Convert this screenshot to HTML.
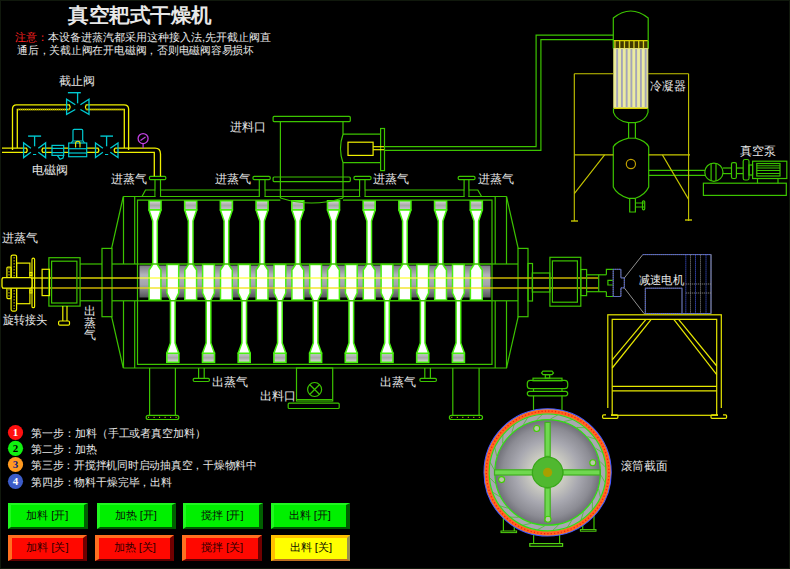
<!DOCTYPE html>
<html><head><meta charset="utf-8"><style>
html,body{margin:0;padding:0;background:#000;}
#root{position:relative;width:790px;height:569px;overflow:hidden;background:#000;font-family:"Liberation Sans",sans-serif;}
svg{position:absolute;left:0;top:0;}
svg text{font-family:"Liberation Sans",sans-serif;}
.bd{position:absolute;}
.btn{position:absolute;box-sizing:border-box;font-size:11.2px;line-height:1;display:flex;align-items:center;justify-content:center;color:#000;border-style:solid;}
.btn span{position:relative;top:-0.5px;white-space:pre;}
.btn.g{background:#00f000;border-width:2px 4px 2px 3px;border-color:#20f820 #006000 #005800 #20f820;color:#081008;}
.btn.r{background:#ff0800;border-width:3px 4px 2px 4.5px;border-color:#ff7020 #700000 #600000 #ff7020;color:#300000;}
.btn.y{background:#ffff00;border-width:3px 3.5px 2px 4px;border-color:#ffc000 #989050 #c07020 #ffc000;color:#101000;}
</style></head><body><div id="root">
<div class="bd" style="left:0;top:0;width:790px;height:1px;background:#10180c"></div>
<div class="bd" style="left:0;top:0;width:1px;height:569px;background:#10180c"></div>
<div class="bd" style="left:789px;top:0;width:1px;height:569px;background:#10180c"></div>
<div class="bd" style="left:0;top:568px;width:790px;height:1px;background:#10180c"></div>
<svg width="790" height="569" viewBox="0 0 790 569">
<defs>
<linearGradient id="gband" x1="0" y1="0" x2="0" y2="1">
 <stop offset="0" stop-color="#7c7c84"/><stop offset="0.3" stop-color="#b4b4bc"/>
 <stop offset="0.6" stop-color="#a4a4ac"/><stop offset="1" stop-color="#55555a"/></linearGradient>
<linearGradient id="gcap" x1="0" y1="0" x2="0" y2="1">
 <stop offset="0" stop-color="#d8d8d8"/><stop offset="0.5" stop-color="#a8a8a8"/><stop offset="1" stop-color="#c8c8d0"/></linearGradient>
<linearGradient id="gcapb" x1="0" y1="0" x2="0" y2="1">
 <stop offset="0" stop-color="#c8c8d0"/><stop offset="0.5" stop-color="#a8a8a8"/><stop offset="1" stop-color="#d8d8d8"/></linearGradient>
<linearGradient id="gtube" x1="0" y1="0" x2="1" y2="0" spreadMethod="repeat">
 <stop offset="0" stop-color="#d8d8c8"/><stop offset="0.5" stop-color="#9a9a9a"/><stop offset="1" stop-color="#d8d8c8"/></linearGradient>
<radialGradient id="gsec" cx="0.5" cy="0.5" r="0.5">
 <stop offset="0" stop-color="#e4e4dc"/><stop offset="0.35" stop-color="#c8c8c0"/><stop offset="0.6" stop-color="#a8a8b0"/><stop offset="0.85" stop-color="#8c8c94"/><stop offset="1" stop-color="#707078"/></radialGradient>
<linearGradient id="btng" x1="0" y1="0" x2="0" y2="1"><stop offset="0" stop-color="#18f018"/><stop offset="1" stop-color="#10e010"/></linearGradient>
</defs>
<rect x="139.5" y="265.5" width="351" height="32" fill="url(#gband)"/>
<rect x="149.0" y="200.8" width="12" height="9" fill="url(#gcap)" stroke="#48f010" stroke-width="1.6"/>
<path d="M149.0,210 L152.7,221 L152.7,264.5 L149.1,270 L149.1,300 L160.9,300 L160.9,270 L157.3,264.5 L157.3,221 L161.0,210 Z" fill="#fff" stroke="#48f010" stroke-width="1.5" stroke-linejoin="round"/>
<rect x="184.7" y="200.8" width="12" height="9" fill="url(#gcap)" stroke="#48f010" stroke-width="1.6"/>
<path d="M184.7,210 L188.39999999999998,221 L188.39999999999998,264.5 L184.79999999999998,270 L184.79999999999998,300 L196.6,300 L196.6,270 L193.0,264.5 L193.0,221 L196.7,210 Z" fill="#fff" stroke="#48f010" stroke-width="1.5" stroke-linejoin="round"/>
<rect x="220.4" y="200.8" width="12" height="9" fill="url(#gcap)" stroke="#48f010" stroke-width="1.6"/>
<path d="M220.4,210 L224.1,221 L224.1,264.5 L220.5,270 L220.5,300 L232.3,300 L232.3,270 L228.70000000000002,264.5 L228.70000000000002,221 L232.4,210 Z" fill="#fff" stroke="#48f010" stroke-width="1.5" stroke-linejoin="round"/>
<rect x="256.1" y="200.8" width="12" height="9" fill="url(#gcap)" stroke="#48f010" stroke-width="1.6"/>
<path d="M256.1,210 L259.8,221 L259.8,264.5 L256.20000000000005,270 L256.20000000000005,300 L268.0,300 L268.0,270 L264.40000000000003,264.5 L264.40000000000003,221 L268.1,210 Z" fill="#fff" stroke="#48f010" stroke-width="1.5" stroke-linejoin="round"/>
<rect x="291.8" y="200.8" width="12" height="9" fill="url(#gcap)" stroke="#48f010" stroke-width="1.6"/>
<path d="M291.8,210 L295.5,221 L295.5,264.5 L291.90000000000003,270 L291.90000000000003,300 L303.7,300 L303.7,270 L300.1,264.5 L300.1,221 L303.8,210 Z" fill="#fff" stroke="#48f010" stroke-width="1.5" stroke-linejoin="round"/>
<rect x="327.5" y="200.8" width="12" height="9" fill="url(#gcap)" stroke="#48f010" stroke-width="1.6"/>
<path d="M327.5,210 L331.2,221 L331.2,264.5 L327.6,270 L327.6,300 L339.4,300 L339.4,270 L335.8,264.5 L335.8,221 L339.5,210 Z" fill="#fff" stroke="#48f010" stroke-width="1.5" stroke-linejoin="round"/>
<rect x="363.20000000000005" y="200.8" width="12" height="9" fill="url(#gcap)" stroke="#48f010" stroke-width="1.6"/>
<path d="M363.20000000000005,210 L366.90000000000003,221 L366.90000000000003,264.5 L363.30000000000007,270 L363.30000000000007,300 L375.1,300 L375.1,270 L371.50000000000006,264.5 L371.50000000000006,221 L375.20000000000005,210 Z" fill="#fff" stroke="#48f010" stroke-width="1.5" stroke-linejoin="round"/>
<rect x="398.90000000000003" y="200.8" width="12" height="9" fill="url(#gcap)" stroke="#48f010" stroke-width="1.6"/>
<path d="M398.90000000000003,210 L402.6,221 L402.6,264.5 L399.00000000000006,270 L399.00000000000006,300 L410.8,300 L410.8,270 L407.20000000000005,264.5 L407.20000000000005,221 L410.90000000000003,210 Z" fill="#fff" stroke="#48f010" stroke-width="1.5" stroke-linejoin="round"/>
<rect x="434.6" y="200.8" width="12" height="9" fill="url(#gcap)" stroke="#48f010" stroke-width="1.6"/>
<path d="M434.6,210 L438.3,221 L438.3,264.5 L434.70000000000005,270 L434.70000000000005,300 L446.5,300 L446.5,270 L442.90000000000003,264.5 L442.90000000000003,221 L446.6,210 Z" fill="#fff" stroke="#48f010" stroke-width="1.5" stroke-linejoin="round"/>
<rect x="470.3" y="200.8" width="12" height="9" fill="url(#gcap)" stroke="#48f010" stroke-width="1.6"/>
<path d="M470.3,210 L474.0,221 L474.0,264.5 L470.40000000000003,270 L470.40000000000003,300 L482.2,300 L482.2,270 L478.6,264.5 L478.6,221 L482.3,210 Z" fill="#fff" stroke="#48f010" stroke-width="1.5" stroke-linejoin="round"/>
<rect x="166.8" y="353.3" width="12" height="9" fill="url(#gcapb)" stroke="#48f010" stroke-width="1.6"/>
<path d="M166.8,353.3 L170.5,343 L170.5,300.5 L166.9,293 L166.9,264.5 L178.70000000000002,264.5 L178.70000000000002,293 L175.10000000000002,300.5 L175.10000000000002,343 L178.8,353.3 Z" fill="#fff" stroke="#48f010" stroke-width="1.5" stroke-linejoin="round"/>
<rect x="202.5" y="353.3" width="12" height="9" fill="url(#gcapb)" stroke="#48f010" stroke-width="1.6"/>
<path d="M202.5,353.3 L206.2,343 L206.2,300.5 L202.6,293 L202.6,264.5 L214.4,264.5 L214.4,293 L210.8,300.5 L210.8,343 L214.5,353.3 Z" fill="#fff" stroke="#48f010" stroke-width="1.5" stroke-linejoin="round"/>
<rect x="238.20000000000002" y="353.3" width="12" height="9" fill="url(#gcapb)" stroke="#48f010" stroke-width="1.6"/>
<path d="M238.20000000000002,353.3 L241.9,343 L241.9,300.5 L238.3,293 L238.3,264.5 L250.10000000000002,264.5 L250.10000000000002,293 L246.50000000000003,300.5 L246.50000000000003,343 L250.20000000000002,353.3 Z" fill="#fff" stroke="#48f010" stroke-width="1.5" stroke-linejoin="round"/>
<rect x="273.90000000000003" y="353.3" width="12" height="9" fill="url(#gcapb)" stroke="#48f010" stroke-width="1.6"/>
<path d="M273.90000000000003,353.3 L277.6,343 L277.6,300.5 L274.00000000000006,293 L274.00000000000006,264.5 L285.8,264.5 L285.8,293 L282.20000000000005,300.5 L282.20000000000005,343 L285.90000000000003,353.3 Z" fill="#fff" stroke="#48f010" stroke-width="1.5" stroke-linejoin="round"/>
<rect x="309.6" y="353.3" width="12" height="9" fill="url(#gcapb)" stroke="#48f010" stroke-width="1.6"/>
<path d="M309.6,353.3 L313.3,343 L313.3,300.5 L309.70000000000005,293 L309.70000000000005,264.5 L321.5,264.5 L321.5,293 L317.90000000000003,300.5 L317.90000000000003,343 L321.6,353.3 Z" fill="#fff" stroke="#48f010" stroke-width="1.5" stroke-linejoin="round"/>
<rect x="345.3" y="353.3" width="12" height="9" fill="url(#gcapb)" stroke="#48f010" stroke-width="1.6"/>
<path d="M345.3,353.3 L349.0,343 L349.0,300.5 L345.40000000000003,293 L345.40000000000003,264.5 L357.2,264.5 L357.2,293 L353.6,300.5 L353.6,343 L357.3,353.3 Z" fill="#fff" stroke="#48f010" stroke-width="1.5" stroke-linejoin="round"/>
<rect x="381.0" y="353.3" width="12" height="9" fill="url(#gcapb)" stroke="#48f010" stroke-width="1.6"/>
<path d="M381.0,353.3 L384.7,343 L384.7,300.5 L381.1,293 L381.1,264.5 L392.9,264.5 L392.9,293 L389.3,300.5 L389.3,343 L393.0,353.3 Z" fill="#fff" stroke="#48f010" stroke-width="1.5" stroke-linejoin="round"/>
<rect x="416.70000000000005" y="353.3" width="12" height="9" fill="url(#gcapb)" stroke="#48f010" stroke-width="1.6"/>
<path d="M416.70000000000005,353.3 L420.40000000000003,343 L420.40000000000003,300.5 L416.80000000000007,293 L416.80000000000007,264.5 L428.6,264.5 L428.6,293 L425.00000000000006,300.5 L425.00000000000006,343 L428.70000000000005,353.3 Z" fill="#fff" stroke="#48f010" stroke-width="1.5" stroke-linejoin="round"/>
<rect x="452.40000000000003" y="353.3" width="12" height="9" fill="url(#gcapb)" stroke="#48f010" stroke-width="1.6"/>
<path d="M452.40000000000003,353.3 L456.1,343 L456.1,300.5 L452.50000000000006,293 L452.50000000000006,264.5 L464.3,264.5 L464.3,293 L460.70000000000005,300.5 L460.70000000000005,343 L464.40000000000003,353.3 Z" fill="#fff" stroke="#48f010" stroke-width="1.5" stroke-linejoin="round"/>
<path d="M142,196.5 L145.5,190 L477.8,190 L481.6,196.5" stroke="#3cc400" stroke-width="1.2" fill="none" />
<line x1="123.3" y1="196.5" x2="506.5" y2="196.5" stroke="#3cc400" stroke-width="1.2" />
<path d="M280.4,200.2 L137.5,200.2 L137.5,364.4 L492,364.4 L492,200.2 L343,200.2" stroke="#3cc400" stroke-width="1.2" fill="none" />
<line x1="123.3" y1="368" x2="507" y2="368" stroke="#3cc400" stroke-width="1.2" />
<line x1="123.5" y1="196.5" x2="123.5" y2="264" stroke="#3cc400" stroke-width="1.2" />
<line x1="123.5" y1="301" x2="123.5" y2="368" stroke="#3cc400" stroke-width="1.2" />
<line x1="134.7" y1="196.5" x2="134.7" y2="264" stroke="#3cc400" stroke-width="1.2" />
<line x1="134.7" y1="301" x2="134.7" y2="368" stroke="#3cc400" stroke-width="1.2" />
<line x1="495.2" y1="196.5" x2="495.2" y2="264" stroke="#3cc400" stroke-width="1.2" />
<line x1="495.2" y1="301" x2="495.2" y2="368" stroke="#3cc400" stroke-width="1.2" />
<line x1="506.5" y1="196.5" x2="506.5" y2="264" stroke="#3cc400" stroke-width="1.2" />
<line x1="506.5" y1="301" x2="506.5" y2="368" stroke="#3cc400" stroke-width="1.2" />
<path d="M123.3,196.5 L111.6,248.4" stroke="#3cc400" stroke-width="1.2" fill="none" />
<path d="M111.6,316.6 L123.3,368" stroke="#3cc400" stroke-width="1.2" fill="none" />
<path d="M506.5,196.5 L518.2,248.4" stroke="#3cc400" stroke-width="1.2" fill="none" />
<path d="M518.2,316.6 L506.5,368" stroke="#3cc400" stroke-width="1.2" fill="none" />
<line x1="80" y1="264" x2="102" y2="264" stroke="#3cc400" stroke-width="1.2" />
<line x1="80" y1="300.8" x2="102" y2="300.8" stroke="#3cc400" stroke-width="1.2" />
<line x1="112" y1="264" x2="139.5" y2="264" stroke="#3cc400" stroke-width="1.2" />
<line x1="112" y1="300.8" x2="139.5" y2="300.8" stroke="#3cc400" stroke-width="1.2" />
<line x1="139.5" y1="264" x2="491.5" y2="264" stroke="#3cc400" stroke-width="1.4" />
<line x1="139.5" y1="300.8" x2="491.5" y2="300.8" stroke="#3cc400" stroke-width="1.4" />
<line x1="491.5" y1="264" x2="518" y2="264" stroke="#3cc400" stroke-width="1.2" />
<line x1="491.5" y1="300.8" x2="518" y2="300.8" stroke="#3cc400" stroke-width="1.2" />
<rect x="102" y="248.4" width="10" height="68.3" rx="0" stroke="#3cc400" stroke-width="1.2" fill="none" />
<rect x="518" y="248.4" width="10" height="68.3" rx="0" stroke="#3cc400" stroke-width="1.2" fill="none" />
<rect x="528" y="263.5" width="4.5" height="37.5" rx="0" stroke="#3cc400" stroke-width="1.2" fill="none" />
<line x1="2" y1="278" x2="139.5" y2="278" stroke="#d8d000" stroke-width="1.5" />
<line x1="2" y1="288" x2="139.5" y2="288" stroke="#c8b000" stroke-width="1.5" />
<line x1="139.5" y1="278" x2="491" y2="278" stroke="#ffff30" stroke-width="1.8" opacity="0.6"/>
<line x1="139.5" y1="288" x2="491" y2="288" stroke="#f0e000" stroke-width="1.8" opacity="0.6"/>
<line x1="491" y1="278" x2="598.2" y2="278" stroke="#c8b400" stroke-width="1.5" />
<line x1="491" y1="288" x2="598.2" y2="288" stroke="#c8b400" stroke-width="1.5" />
<rect x="149.4" y="176.3" width="16.400000000000006" height="3.4" rx="1.2" stroke="#3cc400" stroke-width="1.2" fill="none" />
<line x1="155" y1="179.7" x2="155" y2="196.5" stroke="#3cc400" stroke-width="1.2" />
<line x1="160.5" y1="179.7" x2="160.5" y2="196.5" stroke="#3cc400" stroke-width="1.2" />
<rect x="155.7" y="189" width="4.1" height="8.3" fill="#000"/>
<rect x="253" y="176.3" width="17.19999999999999" height="3.4" rx="1.2" stroke="#3cc400" stroke-width="1.2" fill="none" />
<line x1="259.3" y1="179.7" x2="259.3" y2="196.5" stroke="#3cc400" stroke-width="1.2" />
<line x1="265" y1="179.7" x2="265" y2="196.5" stroke="#3cc400" stroke-width="1.2" />
<rect x="260.0" y="189" width="4.299999999999988" height="8.3" fill="#000"/>
<rect x="354" y="176.3" width="17" height="3.4" rx="1.2" stroke="#3cc400" stroke-width="1.2" fill="none" />
<line x1="359.6" y1="179.7" x2="359.6" y2="196.5" stroke="#3cc400" stroke-width="1.2" />
<line x1="365" y1="179.7" x2="365" y2="196.5" stroke="#3cc400" stroke-width="1.2" />
<rect x="360.3" y="189" width="3.9999999999999774" height="8.3" fill="#000"/>
<rect x="458.2" y="176.3" width="16.80000000000001" height="3.4" rx="1.2" stroke="#3cc400" stroke-width="1.2" fill="none" />
<line x1="464.1" y1="179.7" x2="464.1" y2="196.5" stroke="#3cc400" stroke-width="1.2" />
<line x1="468.9" y1="179.7" x2="468.9" y2="196.5" stroke="#3cc400" stroke-width="1.2" />
<rect x="464.8" y="189" width="3.3999999999999546" height="8.3" fill="#000"/>
<line x1="198.6" y1="368" x2="198.6" y2="378.3" stroke="#3cc400" stroke-width="1.2" />
<line x1="204.2" y1="368" x2="204.2" y2="378.3" stroke="#3cc400" stroke-width="1.2" />
<rect x="193.2" y="378.3" width="16.200000000000017" height="3.2" rx="1.2" stroke="#3cc400" stroke-width="1.2" fill="none" />
<line x1="424.8" y1="368" x2="424.8" y2="378.3" stroke="#3cc400" stroke-width="1.2" />
<line x1="430.4" y1="368" x2="430.4" y2="378.3" stroke="#3cc400" stroke-width="1.2" />
<rect x="419.9" y="378.3" width="16.5" height="3.2" rx="1.2" stroke="#3cc400" stroke-width="1.2" fill="none" />
<line x1="149.6" y1="368" x2="149.6" y2="415.3" stroke="#3cc400" stroke-width="1.2" />
<line x1="175.4" y1="368" x2="175.4" y2="415.3" stroke="#3cc400" stroke-width="1.2" />
<rect x="146.2" y="415.3" width="32.60000000000001" height="4.2" rx="2" stroke="#40c800" stroke-width="1.2" fill="none" />
<line x1="148.1" y1="417.4" x2="176.9" y2="417.4" stroke="#c0c000" stroke-width="1.2" stroke-dasharray="1 4.5"/>
<line x1="452.8" y1="368" x2="452.8" y2="415.3" stroke="#3cc400" stroke-width="1.2" />
<line x1="479.1" y1="368" x2="479.1" y2="415.3" stroke="#3cc400" stroke-width="1.2" />
<rect x="449.40000000000003" y="415.3" width="33.10000000000001" height="4.2" rx="2" stroke="#40c800" stroke-width="1.2" fill="none" />
<line x1="451.3" y1="417.4" x2="480.6" y2="417.4" stroke="#c0c000" stroke-width="1.2" stroke-dasharray="1 4.5"/>
<rect x="296.5" y="368" width="36.2" height="33" rx="0" stroke="#3cc400" stroke-width="1.2" fill="none" />
<line x1="296.5" y1="399.5" x2="332.7" y2="399.5" stroke="#3cc400" stroke-width="1.2" />
<circle cx="314.6" cy="389.5" r="7" stroke="#3cc400" stroke-width="1.2" fill="none" />
<path d="M309.6,384.5 L319.6,394.5 M319.6,384.5 L309.6,394.5" stroke="#3cc400" stroke-width="1.2" fill="none" />
<rect x="288.2" y="403.2" width="51" height="5.3" rx="1" stroke="#3cc400" stroke-width="1.2" fill="none" />
<rect x="273.1" y="116.4" width="77.2" height="5.2" rx="1" stroke="#3cc400" stroke-width="1.2" fill="none" />
<line x1="280.4" y1="121.6" x2="280.4" y2="198" stroke="#3cc400" stroke-width="1.2" />
<line x1="343" y1="121.6" x2="343" y2="134.2" stroke="#3cc400" stroke-width="1.2" />
<line x1="343" y1="162.7" x2="343" y2="198" stroke="#3cc400" stroke-width="1.2" />
<path d="M280.4,198 Q311.7,208 343,198" stroke="#3cc400" stroke-width="1.2" fill="none" />
<rect x="273.1" y="177" width="77.2" height="4.6" rx="1" stroke="#3cc400" stroke-width="1.2" fill="none" />
<path d="M343,134.2 L380.6,134.2 M343,162.7 L380.6,162.7 M343,134.2 Q338,148.5 343,162.7" stroke="#3cc400" stroke-width="1.2" fill="none" />
<rect x="380.6" y="128.5" width="3.9" height="42.1" rx="0" stroke="#3cc400" stroke-width="1.2" fill="none" />
<rect x="348" y="142.2" width="25.1" height="13.2" rx="0" stroke="#f0f000" stroke-width="1.2" fill="none" />
<line x1="373.1" y1="146.7" x2="384" y2="146.7" stroke="#f0f000" stroke-width="1.2" />
<line x1="373.1" y1="149.7" x2="384" y2="149.7" stroke="#f0f000" stroke-width="1.2" />
<path d="M384.5,146.6 L536.1,146.6 L536.1,35.2 L613.5,35.2" stroke="#3cc400" stroke-width="1.2" fill="none" />
<path d="M384.5,150.4 L540.9,150.4 L540.9,39.6 L613.5,39.6" stroke="#3cc400" stroke-width="1.2" fill="none" />
<rect x="48.9" y="257.7" width="31.2" height="48.4" rx="0" stroke="#3cc400" stroke-width="1.2" fill="none" />
<rect x="51.6" y="261.2" width="25.3" height="41.8" rx="0" stroke="#3cc400" stroke-width="1.2" fill="none" />
<rect x="42.1" y="269.3" width="7.4" height="26.3" rx="0" stroke="#f0f000" stroke-width="1.2" fill="none" />
<line x1="62.8" y1="306.1" x2="62.8" y2="321" stroke="#f0f000" stroke-width="1.2" />
<line x1="67" y1="306.1" x2="67" y2="321" stroke="#f0f000" stroke-width="1.2" />
<rect x="58.6" y="321" width="10.9" height="4.1" rx="1.2" stroke="#f0f000" stroke-width="1.2" fill="none" />
<rect x="11.1" y="255.1" width="5.5" height="56" rx="1.5" stroke="#f0f000" stroke-width="1.2" fill="none" />
<line x1="14.1" y1="257" x2="14.1" y2="309" stroke="#c8c000" stroke-width="1" stroke-dasharray="1.5 1.5"/>
<rect x="6.9" y="267.1" width="4.2" height="31.5" rx="1" stroke="#f0f000" stroke-width="1.2" fill="none" />
<line x1="9" y1="268" x2="9" y2="298" stroke="#c8c000" stroke-width="1" stroke-dasharray="1.5 1.5"/>
<rect x="16.6" y="263.1" width="13.3" height="40.6" rx="0" stroke="#f0f000" stroke-width="1.2" fill="none" />
<rect x="32" y="258.2" width="2.6" height="49.5" rx="1.3" stroke="#f0f000" stroke-width="1.2" fill="none" />
<rect x="29.9" y="272.5" width="2.1" height="3" rx="0" stroke="#f0f000" stroke-width="1" fill="none" />
<rect x="29.9" y="290" width="2.1" height="3" rx="0" stroke="#f0f000" stroke-width="1" fill="none" />
<rect x="2" y="277.6" width="30" height="10.6" rx="2" stroke="#f0f000" stroke-width="1.3" fill="#000" />
<path d="M12.5,150 L12.5,109 Q12.5,104.8 16.5,104.8 L69.4,104.8 Q71,107.15 69.4,109.5" stroke="#f0f000" stroke-width="1.3" fill="none" />
<path d="M17.3,148 L17.3,109.5 L69.4,109.5" stroke="#f0f000" stroke-width="1.3" fill="none" />
<path d="M18,109.5 L69,109.5" stroke="#a09000" stroke-width="1.3" fill="none" stroke-dasharray="1 1"/>
<path d="M86.2,109.5 Q84.6,107.15 86.2,104.8 L124,104.8 Q128.6,104.8 128.6,109 L128.6,150" stroke="#f0f000" stroke-width="1.3" fill="none" />
<path d="M86.2,109.5 L124.3,109.5 L124.3,148" stroke="#f0f000" stroke-width="1.3" fill="none" />
<path d="M86.6,109.5 L124,109.5" stroke="#a09000" stroke-width="1.3" fill="none" stroke-dasharray="1 1"/>
<path d="M2,148.2 L26.4,148.2 Q28,150.25 26.4,152.3 L2,152.3" stroke="#f0f000" stroke-width="1.3" fill="none" />
<path d="M52.2,148.2 L42.8,148.2 Q41.2,150.25 42.8,152.3 L52.2,152.3" stroke="#f0f000" stroke-width="1.3" fill="none" />
<path d="M63.9,148.2 L68.9,148.2 M63.9,152.3 L68.9,152.3" stroke="#f0f000" stroke-width="1.3" fill="none" />
<path d="M86.7,148.2 L98,148.2 Q99.6,150.25 98,152.3 L86.7,152.3" stroke="#f0f000" stroke-width="1.3" fill="none" />
<path d="M115,148.2 L155,148.2 Q160.5,148.2 160.5,154 L160.5,176.3" stroke="#f0f000" stroke-width="1.3" fill="none" />
<path d="M115,148.2 Q113.4,150.25 115,152.3 L154.3,152.3 L154.3,176.3" stroke="#f0f000" stroke-width="1.3" fill="none" />
<path d="M75.3,104.8 L66.6,99.3 L66.6,114.4 L75.3,109.5 M80.4,104.8 L89,99.3 L89,114.4 L80.4,109.5" stroke="#00c8d0" stroke-width="1.3" fill="none" />
<line x1="77.6" y1="92.7" x2="77.6" y2="103.3" stroke="#00c8d0" stroke-width="1.3" />
<line x1="67.9" y1="92.7" x2="80.8" y2="92.7" stroke="#00c8d0" stroke-width="1.4" />
<path d="M30.9,148.2 L23.6,142.9 L23.6,157.6 L30.9,152.3 M38.3,148.2 L45.6,142.9 L45.6,157.6 L38.3,152.3" stroke="#00c8d0" stroke-width="1.3" fill="none" />
<line x1="34.6" y1="136.1" x2="34.6" y2="146.3" stroke="#00c8d0" stroke-width="1.3" />
<line x1="28.1" y1="136.1" x2="41.1" y2="136.1" stroke="#00c8d0" stroke-width="1.4" />
<path d="M102.9,148.2 L95.5,142.9 L95.5,157.6 L102.9,152.3 M110.3,148.2 L118,142.9 L118,157.6 L110.3,152.3" stroke="#00c8d0" stroke-width="1.3" fill="none" />
<line x1="106.6" y1="136.1" x2="106.6" y2="146.3" stroke="#00c8d0" stroke-width="1.3" />
<line x1="100.4" y1="136.1" x2="113" y2="136.1" stroke="#00c8d0" stroke-width="1.4" />
<line x1="33" y1="154.5" x2="36.2" y2="154.5" stroke="#00c8d0" stroke-width="1" />
<line x1="105" y1="154.5" x2="108.2" y2="154.5" stroke="#00c8d0" stroke-width="1" />
<rect x="52" y="145.4" width="11.7" height="10" rx="0" stroke="#00c8d0" stroke-width="1.2" fill="none" />
<line x1="52" y1="148.4" x2="63.7" y2="148.4" stroke="#00c8d0" stroke-width="1.2" />
<line x1="52" y1="152.6" x2="63.7" y2="152.6" stroke="#00c8d0" stroke-width="1.2" />
<path d="M57.3,155.4 L60,159.2 L63,158 L63.7,155.4" stroke="#00c8d0" stroke-width="1.2" fill="none" />
<rect x="68.7" y="143" width="18" height="13.7" rx="0" stroke="#00c8d0" stroke-width="1.2" fill="none" />
<line x1="68.7" y1="148.7" x2="86.7" y2="148.7" stroke="#00c8d0" stroke-width="1.2" />
<line x1="68.7" y1="153" x2="86.7" y2="153" stroke="#00c8d0" stroke-width="1.2" />
<path d="M71.4,143 L72.5,141 L83.3,141 L84.4,143" stroke="#00c8d0" stroke-width="1.1" fill="none" />
<path d="M73,140.7 L73,130.5 Q73,129.3 74.2,129.3 L81.5,129.3 Q82.7,129.3 82.7,130.5 L82.7,140.7" stroke="#00c8d0" stroke-width="1.2" fill="none" />
<path d="M75.6,147.5 L75.6,143.5 Q75.6,141.3 77.8,141.3 Q80,141.3 80,143.5 L80,147.5" stroke="#f0f000" stroke-width="1.1" fill="none" />
<circle cx="143.1" cy="138.6" r="5" stroke="#c040e0" stroke-width="1.3" fill="none" />
<line x1="140.5" y1="140.5" x2="145.5" y2="137" stroke="#c040e0" stroke-width="1.2" />
<line x1="143.1" y1="143.6" x2="143.1" y2="148" stroke="#c040e0" stroke-width="1.2" />
<path d="M613.3,40 L613.3,18 Q630.7,4 648.2,18 L648.2,40" stroke="#3cc400" stroke-width="1.2" fill="none" />
<rect x="613.8" y="40.3" width="34" height="8.3" fill="#403800"/>
<rect x="614.3" y="41" width="1.3" height="7.5" fill="#d8d020"/>
<rect x="619.05" y="41" width="1.3" height="7.5" fill="#d8d020"/>
<rect x="623.8" y="41" width="1.3" height="7.5" fill="#d8d020"/>
<rect x="628.55" y="41" width="1.3" height="7.5" fill="#d8d020"/>
<rect x="633.3" y="41" width="1.3" height="7.5" fill="#d8d020"/>
<rect x="638.05" y="41" width="1.3" height="7.5" fill="#d8d020"/>
<rect x="642.8" y="41" width="1.3" height="7.5" fill="#d8d020"/>
<rect x="647.55" y="41" width="1.3" height="7.5" fill="#d8d020"/>
<line x1="613.5" y1="40.6" x2="648" y2="40.6" stroke="#d8d000" stroke-width="1.2" />
<line x1="613.3" y1="40" x2="613.3" y2="48.6" stroke="#3cc400" stroke-width="1.2" />
<line x1="648.2" y1="40" x2="648.2" y2="48.6" stroke="#3cc400" stroke-width="1.2" />
<rect x="613.8" y="48.6" width="34" height="59" fill="#ececa0"/>
<rect x="616.2" y="48.6" width="1.9" height="59" fill="#a4a4b8"/>
<rect x="620.95" y="48.6" width="1.9" height="59" fill="#a4a4b8"/>
<rect x="625.7" y="48.6" width="1.9" height="59" fill="#a4a4b8"/>
<rect x="630.45" y="48.6" width="1.9" height="59" fill="#a4a4b8"/>
<rect x="635.2" y="48.6" width="1.9" height="59" fill="#a4a4b8"/>
<rect x="639.95" y="48.6" width="1.9" height="59" fill="#a4a4b8"/>
<rect x="644.7" y="48.6" width="1.9" height="59" fill="#a4a4b8"/>
<rect x="613.8" y="48.6" width="34" height="59" fill="none" stroke="#e8e880" stroke-width="1"/>
<line x1="613.5" y1="108.3" x2="648" y2="108.3" stroke="#d8d000" stroke-width="1.2" />
<path d="M613.5,108.3 L613.5,112.3 Q616,120.5 628.6,122.7 L635.4,122.7 Q646,120.5 648,112.3 L648,108.3" stroke="#3cc400" stroke-width="1.2" fill="none" />
<line x1="628.6" y1="122.7" x2="628.6" y2="138.2" stroke="#3cc400" stroke-width="1.2" />
<line x1="635.4" y1="122.7" x2="635.4" y2="138.2" stroke="#3cc400" stroke-width="1.2" />
<line x1="628.6" y1="138.2" x2="635.4" y2="138.2" stroke="#3cc400" stroke-width="1" />
<path d="M628.6,138.2 Q617,141 613.3,146.8 L613.3,187 Q617,195 628.6,198.3 L635.4,198.3 Q645,195 648.7,187 L648.7,146.8 Q646,141 635.4,138.2" stroke="#3cc400" stroke-width="1.2" fill="none" />
<circle cx="630.9" cy="164" r="4.6" stroke="#c0a000" stroke-width="1.2" fill="none" />
<path d="M629.7,198.3 L629.7,212 L635.4,212 L635.4,198.3" stroke="#3cc400" stroke-width="1.2" fill="none" />
<path d="M635.4,203 L644,203 M635.4,207 L644,207" stroke="#3cc400" stroke-width="1.2" fill="none" />
<rect x="642.5" y="200.8" width="2.2" height="9" rx="1" stroke="#3cc400" stroke-width="1.2" fill="none" />
<line x1="648.7" y1="170.4" x2="705" y2="170.4" stroke="#3cc400" stroke-width="1.2" />
<line x1="648.7" y1="175.4" x2="705" y2="175.4" stroke="#3cc400" stroke-width="1.2" />
<line x1="574.3" y1="73.8" x2="613.3" y2="73.8" stroke="#c8c800" stroke-width="1.1" />
<line x1="648.2" y1="73.8" x2="688.6" y2="73.8" stroke="#c8c800" stroke-width="1.1" />
<line x1="574.3" y1="73.8" x2="574.3" y2="221" stroke="#c8c800" stroke-width="1.1" />
<line x1="688.6" y1="73.8" x2="688.6" y2="221" stroke="#c8c800" stroke-width="1.1" />
<line x1="574.3" y1="154.9" x2="613.3" y2="154.9" stroke="#c8c800" stroke-width="1.1" />
<line x1="648.7" y1="154.9" x2="690" y2="154.9" stroke="#c8c800" stroke-width="1.1" />
<line x1="604.6" y1="154.9" x2="574.3" y2="193.7" stroke="#c8c800" stroke-width="1.1" />
<line x1="662.4" y1="154.9" x2="688.6" y2="199.4" stroke="#c8c800" stroke-width="1.1" />
<line x1="571" y1="221" x2="578" y2="221" stroke="#c8c800" stroke-width="1.4" />
<line x1="685" y1="220" x2="692" y2="220" stroke="#c8c800" stroke-width="1.4" />
<circle cx="713.9" cy="172.2" r="9.1" stroke="#3cc400" stroke-width="1.2" fill="none" />
<line x1="711.1" y1="163.5" x2="711.1" y2="181" stroke="#3cc400" stroke-width="1.2" />
<line x1="716" y1="163.5" x2="716" y2="181" stroke="#3cc400" stroke-width="1.2" />
<line x1="723" y1="168" x2="731.5" y2="168" stroke="#3cc400" stroke-width="1.2" />
<line x1="723" y1="173.6" x2="731.5" y2="173.6" stroke="#3cc400" stroke-width="1.2" />
<rect x="731.5" y="162.6" width="4.9" height="15.9" rx="1.5" stroke="#3cc400" stroke-width="1.2" fill="none" />
<line x1="736.4" y1="168" x2="743.2" y2="168" stroke="#3cc400" stroke-width="1.2" />
<line x1="736.4" y1="173.6" x2="743.2" y2="173.6" stroke="#3cc400" stroke-width="1.2" />
<rect x="743.2" y="159.5" width="5.8" height="20.5" rx="1.8" stroke="#3cc400" stroke-width="1.2" fill="none" />
<rect x="749" y="165" width="3.6" height="10" rx="0" stroke="#3cc400" stroke-width="1.2" fill="none" />
<rect x="752.6" y="161.2" width="34.2" height="17.3" rx="0" stroke="#3cc400" stroke-width="1.2" fill="none" />
<rect x="756.8" y="163.5" width="23.2" height="12.5" rx="0" stroke="#3cc400" stroke-width="1.2" fill="none" />
<line x1="756.8" y1="165.8" x2="780" y2="165.8" stroke="#3cc400" stroke-width="1" />
<line x1="756.8" y1="168" x2="780" y2="168" stroke="#3cc400" stroke-width="1" />
<line x1="756.8" y1="170.5" x2="780" y2="170.5" stroke="#3cc400" stroke-width="1" />
<line x1="756.8" y1="173.5" x2="780" y2="173.5" stroke="#3cc400" stroke-width="1" />
<line x1="757.5" y1="178.5" x2="757.5" y2="183.2" stroke="#3cc400" stroke-width="1.2" />
<line x1="778" y1="178.5" x2="778" y2="183.2" stroke="#3cc400" stroke-width="1.2" />
<rect x="703.4" y="183.2" width="82.9" height="12.2" rx="0" stroke="#3cc400" stroke-width="1.2" fill="none" />
<rect x="532.3" y="273" width="17.6" height="19" rx="0" stroke="#3cc400" stroke-width="1.2" fill="none" />
<rect x="549.9" y="257.3" width="30.9" height="48.9" rx="0" stroke="#3cc400" stroke-width="1.2" fill="none" />
<rect x="552.4" y="260.9" width="25" height="41.3" rx="0" stroke="#3cc400" stroke-width="1.2" fill="none" />
<rect x="580.8" y="269.5" width="5.8" height="26.1" rx="0" stroke="#3cc400" stroke-width="1.2" fill="none" />
<line x1="586.6" y1="274.8" x2="606.4" y2="274.8" stroke="#3cc400" stroke-width="1.2" />
<line x1="586.6" y1="291.7" x2="606.4" y2="291.7" stroke="#3cc400" stroke-width="1.2" />
<line x1="598.7" y1="274.8" x2="598.7" y2="291.7" stroke="#3cc400" stroke-width="1.2" />
<path d="M606.4,274.8 L606.4,269.3 L613.2,269.3 M606.4,291.7 L606.4,296.5 L613.2,296.5" stroke="#3cc400" stroke-width="1.2" fill="none" />
<path d="M612.7,280.3 L607.9,280.3 L607.9,285 L612.7,285" stroke="#3cc400" stroke-width="1.2" fill="none" />
<path d="M613.2,269.3 L620.9,269.3 L620.9,277.9 L624.3,277.9 L624.3,287.9 L620.9,287.9 L620.9,296.5 L613.2,296.5 Z" stroke="#787878" stroke-width="1" fill="none" />
<path d="M613.2,269.3 L620.9,269.3 L620.9,277.9 L624.3,277.9 L624.3,287.9 L620.9,287.9 L620.9,296.5 L613.2,296.5 Z" stroke="#4a64ff" stroke-width="1" fill="none" stroke-dasharray="1 1"/>
<path d="M624.3,278 L642.8,254.6 M624.3,287.9 L644,313.5" stroke="#909090" stroke-width="1" fill="none" />
<path d="M642.8,254.6 L711,254.6 L711,313.5 L644,313.5" stroke="#787878" stroke-width="1" fill="none" />
<path d="M642.8,254.6 L711,254.6 L711,313.5 L644,313.5" stroke="#4a64ff" stroke-width="1" fill="none" stroke-dasharray="1 1"/>
<rect x="645.3" y="288.2" width="36.7" height="25.3" rx="0" stroke="#787878" stroke-width="1" fill="none" />
<rect x="645.3" y="288.2" width="36.7" height="25.3" rx="0" stroke="#4a64ff" stroke-width="1" fill="none" stroke-dasharray="1 1"/>
<line x1="685.8" y1="254.6" x2="685.8" y2="313.5" stroke="#4a64ff" stroke-width="1" stroke-dasharray="1 1"/>
<line x1="690.5" y1="254.6" x2="690.5" y2="313.5" stroke="#909090" stroke-width="1" stroke-dasharray="1 1"/>
<line x1="695.5" y1="254.6" x2="695.5" y2="313.5" stroke="#4a64ff" stroke-width="1" stroke-dasharray="1 1"/>
<line x1="700.5" y1="254.6" x2="700.5" y2="313.5" stroke="#909090" stroke-width="1" stroke-dasharray="1 1"/>
<line x1="706" y1="254.6" x2="706" y2="313.5" stroke="#4a64ff" stroke-width="1" stroke-dasharray="1 1"/>
<line x1="711" y1="254.6" x2="711" y2="313.5" stroke="#909090" stroke-width="1" stroke-dasharray="1 1"/>
<line x1="685.8" y1="284" x2="711" y2="284" stroke="#909090" stroke-width="1" stroke-dasharray="1 1"/>
<line x1="685.8" y1="293" x2="711" y2="293" stroke="#909090" stroke-width="1" stroke-dasharray="1 1"/>
<rect x="607.8" y="314.8" width="113.5" height="100.5" rx="0" stroke="#e8e800" stroke-width="1.2" fill="none" />
<path d="M612.2,415.3 L612.2,319.4 L716.7,319.4 L716.7,415.3" stroke="#e8e800" stroke-width="1.2" fill="none" />
<line x1="612.2" y1="386.3" x2="716.7" y2="386.3" stroke="#e8e800" stroke-width="1.2" />
<line x1="612.2" y1="390.9" x2="716.7" y2="390.9" stroke="#e8e800" stroke-width="1.2" />
<line x1="646" y1="319.4" x2="612.2" y2="359.8" stroke="#e8e800" stroke-width="1.2" />
<line x1="651.2" y1="319.4" x2="612.2" y2="368" stroke="#e8e800" stroke-width="1.2" />
<line x1="673.8" y1="319.4" x2="716.7" y2="374.7" stroke="#e8e800" stroke-width="1.2" />
<line x1="678.6" y1="319.4" x2="716.7" y2="366" stroke="#e8e800" stroke-width="1.2" />
<rect x="602.6" y="414.9" width="15.3" height="3.4" rx="1" stroke="#e8e800" stroke-width="1.2" fill="none" />
<rect x="711" y="414.9" width="15.6" height="3.4" rx="1" stroke="#e8e800" stroke-width="1.2" fill="none" />
<rect x="606" y="408" width="5" height="9" fill="#000"/>
<rect x="718" y="408" width="5" height="9" fill="#000"/>
<line x1="533.5" y1="395.8" x2="533.5" y2="410.5" stroke="#3cc400" stroke-width="1.2" />
<line x1="562" y1="395.8" x2="562" y2="410.5" stroke="#3cc400" stroke-width="1.2" />
<rect x="527.3" y="391.4" width="40.4" height="4.4" rx="2.2" stroke="#3cc400" stroke-width="1.2" fill="none" />
<line x1="533.5" y1="388.7" x2="533.5" y2="391.4" stroke="#3cc400" stroke-width="1.2" />
<line x1="562" y1="388.7" x2="562" y2="391.4" stroke="#3cc400" stroke-width="1.2" />
<rect x="527.3" y="380.4" width="40.4" height="8.3" rx="3" stroke="#3cc400" stroke-width="1.2" fill="none" />
<rect x="533" y="378.2" width="29" height="2.6" rx="0" stroke="#3cc400" stroke-width="1.2" fill="none" />
<rect x="545.3" y="374.7" width="4.4" height="3.5" rx="0" stroke="#3cc400" stroke-width="1.2" fill="none" />
<path d="M543,371.1 L552,371.1 L553.5,372.9 L552,374.7 L543,374.7 L541.5,372.9 Z" stroke="#3cc400" stroke-width="1.2" fill="none" />
<line x1="533.6" y1="530" x2="533.6" y2="543.6" stroke="#3cc400" stroke-width="1.2" />
<line x1="559.6" y1="530" x2="559.6" y2="543.6" stroke="#3cc400" stroke-width="1.2" />
<rect x="529.8" y="543.6" width="32.8" height="2.7" rx="0" stroke="#50d010" stroke-width="1.2" fill="none" />
<line x1="503.4" y1="512" x2="503.4" y2="531" stroke="#3cc400" stroke-width="1.2" />
<line x1="514.3" y1="512" x2="514.3" y2="531" stroke="#3cc400" stroke-width="1.2" />
<rect x="501" y="531" width="15.6" height="1.6" rx="0" stroke="#50d010" stroke-width="1" fill="none" />
<line x1="582.7" y1="512" x2="582.7" y2="529.6" stroke="#3cc400" stroke-width="1.2" />
<line x1="594" y1="512" x2="594" y2="529.6" stroke="#3cc400" stroke-width="1.2" />
<rect x="580.4" y="529.6" width="15.6" height="1.6" rx="0" stroke="#50d010" stroke-width="1" fill="none" />
<circle cx="547.6" cy="472.4" r="63.6" stroke="#4858ff" stroke-width="1.1" fill="#a8a8b0" />
<circle cx="547.6" cy="472.4" r="60.9" stroke="#ff6820" stroke-width="4.2" fill="none" />
<circle cx="547.6" cy="472.4" r="61.3" stroke="#ff1010" stroke-width="1.2" fill="none" stroke-dasharray="1.2 2.2"/>
<circle cx="547.6" cy="472.4" r="58.4" stroke="#30e010" stroke-width="1.2" fill="none" />
<circle cx="547.6" cy="472.4" r="52.8" stroke="#30e010" stroke-width="1.2" fill="url(#gsec)" />
<line x1="601.0" y1="475.2" x2="605.0" y2="482.5" stroke="#40c020" stroke-width="0.7" />
<line x1="598.5" y1="488.9" x2="600.4" y2="497.0" stroke="#40c020" stroke-width="0.7" />
<line x1="592.5" y1="501.5" x2="592.3" y2="509.9" stroke="#40c020" stroke-width="0.7" />
<line x1="583.4" y1="512.2" x2="581.0" y2="520.2" stroke="#40c020" stroke-width="0.7" />
<line x1="571.9" y1="520.1" x2="567.5" y2="527.2" stroke="#40c020" stroke-width="0.7" />
<line x1="558.7" y1="524.7" x2="552.7" y2="530.5" stroke="#40c020" stroke-width="0.7" />
<line x1="544.8" y1="525.8" x2="537.5" y2="529.8" stroke="#40c020" stroke-width="0.7" />
<line x1="531.1" y1="523.3" x2="523.0" y2="525.2" stroke="#40c020" stroke-width="0.7" />
<line x1="518.5" y1="517.3" x2="510.1" y2="517.1" stroke="#40c020" stroke-width="0.7" />
<line x1="507.8" y1="508.2" x2="499.8" y2="505.8" stroke="#40c020" stroke-width="0.7" />
<line x1="499.9" y1="496.7" x2="492.8" y2="492.3" stroke="#40c020" stroke-width="0.7" />
<line x1="495.3" y1="483.5" x2="489.5" y2="477.5" stroke="#40c020" stroke-width="0.7" />
<line x1="494.2" y1="469.6" x2="490.2" y2="462.3" stroke="#40c020" stroke-width="0.7" />
<line x1="496.7" y1="455.9" x2="494.8" y2="447.8" stroke="#40c020" stroke-width="0.7" />
<line x1="502.7" y1="443.3" x2="502.9" y2="434.9" stroke="#40c020" stroke-width="0.7" />
<line x1="511.8" y1="432.6" x2="514.2" y2="424.6" stroke="#40c020" stroke-width="0.7" />
<line x1="523.3" y1="424.7" x2="527.7" y2="417.6" stroke="#40c020" stroke-width="0.7" />
<line x1="536.5" y1="420.1" x2="542.5" y2="414.3" stroke="#40c020" stroke-width="0.7" />
<line x1="550.4" y1="419.0" x2="557.7" y2="415.0" stroke="#40c020" stroke-width="0.7" />
<line x1="564.1" y1="421.5" x2="572.2" y2="419.6" stroke="#40c020" stroke-width="0.7" />
<line x1="576.7" y1="427.5" x2="585.1" y2="427.7" stroke="#40c020" stroke-width="0.7" />
<line x1="587.4" y1="436.6" x2="595.4" y2="439.0" stroke="#40c020" stroke-width="0.7" />
<line x1="595.3" y1="448.1" x2="602.4" y2="452.5" stroke="#40c020" stroke-width="0.7" />
<line x1="599.9" y1="461.3" x2="605.7" y2="467.3" stroke="#40c020" stroke-width="0.7" />
<rect x="545.0" y="422.4" width="5.2" height="34" rx="0" stroke="#40b020" stroke-width="1.2" fill="#70d850" />
<rect x="545.0" y="488" width="5.2" height="33.5" rx="0" stroke="#40b020" stroke-width="1.2" fill="#70d850" />
<rect x="494.5" y="469.79999999999995" width="38" height="5.2" rx="0" stroke="#40b020" stroke-width="1.2" fill="#70d850" />
<rect x="563" y="469.79999999999995" width="37" height="5.2" rx="0" stroke="#40b020" stroke-width="1.2" fill="#70d850" />
<circle cx="547.6" cy="472.4" r="15.2" stroke="#38a818" stroke-width="1.2" fill="#50b830" />
<circle cx="547.6" cy="472.4" r="4.6" stroke="#a09800" stroke-width="0" fill="#a8a000" />
<circle cx="536.7" cy="428.5" r="3" stroke="#40d000" stroke-width="1.1" fill="#b8c8a8" />
<circle cx="592.8" cy="462.7" r="3" stroke="#40d000" stroke-width="1.1" fill="#b8c8a8" />
<circle cx="501.6" cy="479.6" r="3" stroke="#40d000" stroke-width="1.1" fill="#b8c8a8" />
<circle cx="548" cy="519.2" r="3" stroke="#40d000" stroke-width="1.1" fill="#b8c8a8" />
<text x="68" y="22" font-size="20" fill="#e8e8e8" text-anchor="start" font-weight="bold" textLength="144" lengthAdjust="spacingAndGlyphs">真空耙式干燥机</text>
<text x="15" y="41" font-size="11" fill="#e8e8e8" text-anchor="start" font-weight="normal" ><tspan fill="#ff2020">注意：</tspan>本设备进蒸汽都采用这种接入法,先开截止阀直</text>
<text x="17" y="53.5" font-size="11" fill="#e8e8e8" text-anchor="start" font-weight="normal" textLength="237" lengthAdjust="spacingAndGlyphs">通后，关截止阀在开电磁阀，否则电磁阀容易损坏</text>
<text x="59.4" y="85" font-size="11.6" fill="#e8e8e8" text-anchor="start" font-weight="normal" >截止阀</text>
<text x="32.4" y="173.5" font-size="11.6" fill="#e8e8e8" text-anchor="start" font-weight="normal" >电磁阀</text>
<text x="111.4" y="183" font-size="11.6" fill="#e8e8e8" text-anchor="start" font-weight="normal" >进蒸气</text>
<text x="215.4" y="183" font-size="11.6" fill="#e8e8e8" text-anchor="start" font-weight="normal" >进蒸气</text>
<text x="372.59999999999997" y="183" font-size="11.6" fill="#e8e8e8" text-anchor="start" font-weight="normal" >进蒸气</text>
<text x="477.9" y="183" font-size="11.6" fill="#e8e8e8" text-anchor="start" font-weight="normal" >进蒸气</text>
<text x="230.4" y="130.5" font-size="11.6" fill="#e8e8e8" text-anchor="start" font-weight="normal" >进料口</text>
<text x="649.9" y="89.5" font-size="11.6" fill="#e8e8e8" text-anchor="start" font-weight="normal" >冷凝器</text>
<text x="739.9" y="155" font-size="11.6" fill="#e8e8e8" text-anchor="start" font-weight="normal" >真空泵</text>
<text x="638.7" y="284" font-size="11.6" fill="#e8e8e8" text-anchor="start" font-weight="normal" textLength="45.5" lengthAdjust="spacingAndGlyphs">减速电机</text>
<text x="2.4" y="241.5" font-size="11.6" fill="#e8e8e8" text-anchor="start" font-weight="normal" >进蒸气</text>
<text x="2.7" y="324" font-size="11.6" fill="#e8e8e8" text-anchor="start" font-weight="normal" textLength="44.5" lengthAdjust="spacingAndGlyphs">旋转接头</text>
<text x="211.9" y="386" font-size="11.6" fill="#e8e8e8" text-anchor="start" font-weight="normal" >出蒸气</text>
<text x="260.2" y="400" font-size="11.6" fill="#e8e8e8" text-anchor="start" font-weight="normal" >出料口</text>
<text x="379.79999999999995" y="386" font-size="11.6" fill="#e8e8e8" text-anchor="start" font-weight="normal" >出蒸气</text>
<text x="620.7" y="469.5" font-size="11.6" fill="#e8e8e8" text-anchor="start" font-weight="normal" textLength="46.5" lengthAdjust="spacingAndGlyphs">滚筒截面</text>
<text x="83.5" y="315.3" font-size="11.5" fill="#e8e8e8" text-anchor="start" font-weight="normal" >出</text>
<text x="83.5" y="327.3" font-size="11.5" fill="#e8e8e8" text-anchor="start" font-weight="normal" >蒸</text>
<text x="83.5" y="339.3" font-size="11.5" fill="#e8e8e8" text-anchor="start" font-weight="normal" >气</text>
<circle cx="15.5" cy="432.5" r="7.6" stroke="#ff1010" stroke-width="0" fill="#ff1010" />
<text x="15.6" y="436.3" font-size="11" font-weight="bold" fill="#fff" text-anchor="middle" style="font-family:'Liberation Serif',serif">1</text>
<text x="31" y="436.7" font-size="10.6" fill="#e8e8e8" text-anchor="start" font-weight="normal" textLength="175" lengthAdjust="spacingAndGlyphs">第一步：加料（手工或者真空加料）</text>
<circle cx="15.5" cy="448.3" r="7.6" stroke="#10f010" stroke-width="0" fill="#10f010" />
<text x="15.6" y="452.1" font-size="11" font-weight="bold" fill="#000" text-anchor="middle" style="font-family:'Liberation Serif',serif">2</text>
<text x="31" y="452.5" font-size="10.6" fill="#e8e8e8" text-anchor="start" font-weight="normal" textLength="66" lengthAdjust="spacingAndGlyphs">第二步：加热</text>
<circle cx="15.5" cy="464.5" r="7.6" stroke="#ff9a20" stroke-width="0" fill="#ff9a20" />
<text x="15.6" y="468.3" font-size="11" font-weight="bold" fill="#102080" text-anchor="middle" style="font-family:'Liberation Serif',serif">3</text>
<text x="31" y="468.7" font-size="10.6" fill="#e8e8e8" text-anchor="start" font-weight="normal" textLength="226" lengthAdjust="spacingAndGlyphs">第三步：开搅拌机同时启动抽真空，干燥物料中</text>
<circle cx="15.5" cy="481.3" r="7.6" stroke="#3c5cc8" stroke-width="0" fill="#3c5cc8" />
<text x="15.6" y="485.1" font-size="11" font-weight="bold" fill="#fff" text-anchor="middle" style="font-family:'Liberation Serif',serif">4</text>
<text x="31" y="485.5" font-size="10.6" fill="#e8e8e8" text-anchor="start" font-weight="normal" textLength="141" lengthAdjust="spacingAndGlyphs">第四步：物料干燥完毕，出料</text>
</svg>
<div class="btn g" style="left:7.8px;top:503.1px;width:80px;height:26px"><span>加料 [开]</span></div><div class="btn g" style="left:96.6px;top:503.1px;width:79.4px;height:26px"><span>加热 [开]</span></div><div class="btn g" style="left:183.2px;top:503.1px;width:79.4px;height:26px"><span>搅拌 [开]</span></div><div class="btn g" style="left:270.5px;top:503.1px;width:79.5px;height:26px"><span>出料 [开]</span></div><div class="btn r" style="left:7.5px;top:535px;width:79.7px;height:26px"><span>加料 [关]</span></div><div class="btn r" style="left:95.2px;top:535px;width:79.2px;height:26px"><span>加热 [关]</span></div><div class="btn r" style="left:182px;top:535px;width:80px;height:26px"><span>搅拌 [关]</span></div><div class="btn y" style="left:270.7px;top:535px;width:79.3px;height:26px"><span>出料 [关]</span></div>
</div></body></html>
